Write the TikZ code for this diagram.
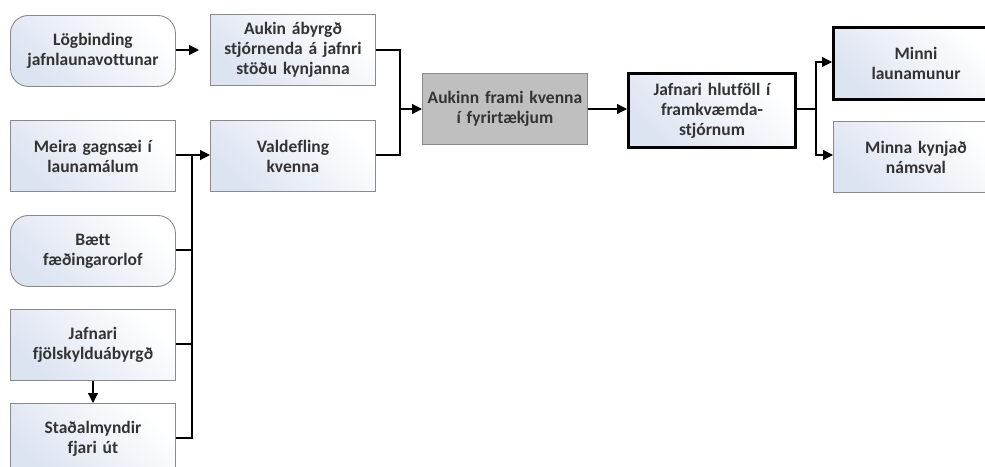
\documentclass[tikz,border=0pt]{standalone}
\usepackage{fontspec}
\setmainfont{Carlito}[Ligatures=NoCommon]
\usetikzlibrary{arrows.meta}
\definecolor{boxline}{HTML}{8A8A8A}
\definecolor{boxtint}{HTML}{DCE3F1}
\definecolor{boxgray}{HTML}{BFBFBF}
\definecolor{txt}{HTML}{333333}
\tikzset{
  x=1pt, y=-1pt,
  base/.style={minimum width=165pt, minimum height=71pt, inner sep=2pt,
    align=center, text width=160pt, text=txt,
    font=\fontsize{17.5}{20}\selectfont\bfseries, anchor=north west},
  plain/.style={base, draw=boxline, line width=0.9pt,
    left color=boxtint, right color=white, shading angle=135},
  soft/.style={plain, rounded corners=18pt},
  strong/.style={base, draw=black, line width=3pt,
    left color=boxtint, right color=white, shading angle=135},
  greybox/.style={base, draw=boxline, line width=0.9pt, fill=boxgray},
  link/.style={draw=black, line width=1.2pt},
  arr/.style={link, -{Triangle[length=10pt,width=10pt]}},
}
\begin{document}
\begin{tikzpicture}
\useasboundingbox (0,0) rectangle (985,466);

% left column
\node[soft]  (lag)   at (10,15)  {Lögbinding\\jafnlaunavottunar};
\node[plain] (meira) at (10,120) {Meira gagnsæi í\\launamálum};
\node[soft]  (baett) at (10,215) {Bætt\\fæðingarorlof};
\node[plain] (fjol)  at (10,309) {Jafnari\\fjölskylduábyrgð};
\node[plain] (stad)  at (10,403) {Staðalmyndir\\fjari út};

% second column
\node[plain] (abyrgd) at (210,14)  {Aukin ábyrgð\\stjórnenda á jafnri\\stöðu kynjanna};
\node[plain] (vald)   at (210,120) {Valdefling\\kvenna};

% middle chain
\node[greybox] (frami) at (422,73) {Aukinn frami kvenna\\í fyrirtækjum};
\node[strong, minimum width=167pt, minimum height=74pt] (hlut) at (627,72) {Jafnari hlutföll í\\framkvæmda-\\stjórnum};

% results
\node[strong, minimum height=72pt] (minni) at (832,26)  {Minni\\launamunur};
\node[plain]  (minna) at (833,121) {Minna kynjað\\námsval};

% connectors
\coordinate (j1) at (400,109);
\coordinate (j2) at (192,155);
\coordinate (j3) at (816,109);

\draw[arr, shorten >=11pt] (lag.east |- 0,50) -- (abyrgd.west |- 0,50);
\draw[arr] (meira.east |- 0,155) -- (vald.west |- 0,155);

\draw[link] (abyrgd.east |- 0,50) -| (j1);
\draw[link] (vald.east |- 0,155) -| (j1);
\draw[arr] (j1) -- (frami.west |- j1);

\draw[link] (j2) |- (stad.east |- 0,438);
\draw[link] (baett.east |- 0,250) -- (j2 |- 0,250);
\draw[link] (fjol.east |- 0,344) -- (j2 |- 0,344);
\draw[arr] (fjol.south -| 93,0) -- (stad.north -| 93,0);

\draw[arr] (frami.east |- 0,109) -- (hlut.west |- 0,109);
\draw[link] (hlut.east |- 0,109) -- (j3);
\draw[arr] (j3) |- (minni.west |- 0,62);
\draw[arr] (j3) |- (minna.west |- 0,155);
\end{tikzpicture}
\end{document}
